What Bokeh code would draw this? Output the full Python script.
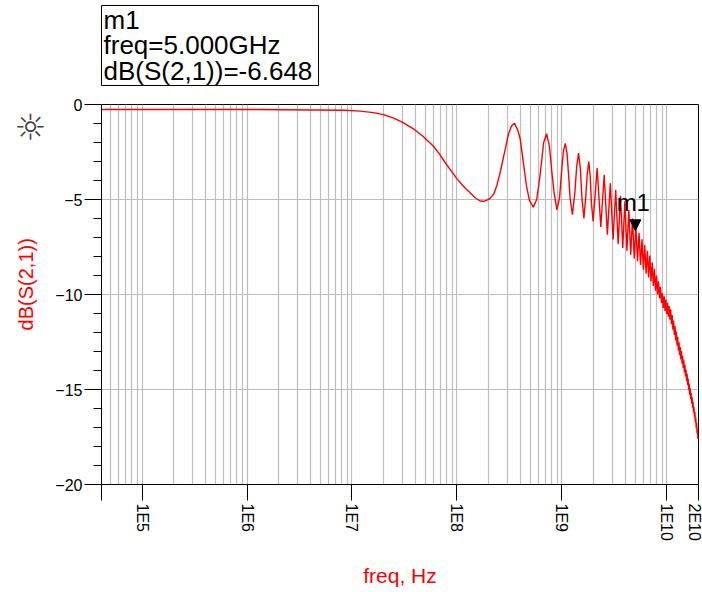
import math
from bokeh.plotting import figure
from bokeh.layouts import row, column
from bokeh.models import FixedTicker, Label, Arrow, NormalHead, BoxAnnotation
from bokeh.embed import file_html
from bokeh.resources import INLINE

# ---------------- data ----------------
# smooth / low-frequency part of the trace: frequency in GHz, dB(S(2,1))
low_freq_ghz = [0.0000411, 0.001, 0.0085, 0.012, 0.016, 0.0199, 0.025, 0.031, 0.0385,
                0.048, 0.0597, 0.068, 0.076, 0.087, 0.0997, 0.115, 0.1335, 0.150,
                0.1663, 0.180, 0.195, 0.207, 0.225, 0.24, 0.26, 0.2776, 0.295,
                0.31, 0.33, 0.3525, 0.38, 0.40, 0.43, 0.46, 0.49, 0.534, 0.575,
                0.61, 0.64, 0.67, 0.715, 0.76, 0.80, 0.84, 0.896, 0.95, 0.99,
                1.03, 1.0775, 1.12, 1.16, 1.20, 1.259, 1.33, 1.38, 1.44, 1.50,
                1.55, 1.62, 1.69, 1.74, 1.8025, 1.86, 1.91, 1.984]
low_db = [-0.26, -0.26, -0.30, -0.35, -0.43, -0.53, -0.72, -0.97, -1.28,
          -1.7, -2.2, -2.6, -3.0, -3.45, -3.9, -4.3, -4.65, -4.92,
          -5.08, -5.1, -5.02, -4.94, -4.7, -4.26, -3.5, -2.77, -2.1,
          -1.54, -1.15, -0.98, -1.35, -1.8, -3.1, -4.3, -5.05, -5.4, -5.0,
          -4.0, -3.0, -2.0, -1.54, -2.2, -3.5, -4.6, -5.55, -4.9, -3.6,
          -2.5, -2.05, -2.6, -3.8, -5.0, -5.8, -4.6, -3.3, -2.56, -3.4,
          -4.9, -6.0, -4.8, -3.7, -3.0, -3.8, -5.2, -6.15]

# dense ripple above 2 GHz: ripple maxima and minima
peak_freq_ghz = [2.165, 2.5275, 2.89, 3.2525, 3.615, 3.9775, 4.34, 4.7025, 5.065,
                 5.4275, 5.79, 6.1525, 6.515, 6.8775, 7.24, 7.6025, 7.965, 8.3275,
                 8.69, 9.0525, 9.415, 9.7775, 10.14, 10.5025, 10.865, 11.2275,
                 11.59, 11.9525, 12.315, 12.6775, 13.04, 13.4025, 13.765, 14.1275,
                 14.49, 14.8525, 15.215, 15.5775, 15.94, 16.3025, 16.665, 17.0275,
                 17.39, 17.7525, 18.115, 18.4775, 18.84, 19.2025, 19.565, 19.9275]
peak_db = [-3.35, -3.7, -4.15, -4.5, -4.8, -5.1, -5.55, -6.0, -6.4,
           -6.75, -7.1, -7.4, -7.7, -7.95, -8.3, -8.65, -9.0, -9.3,
           -9.6, -9.93, -10.1, -10.27, -10.43, -10.6, -10.78, -11.08,
           -11.37, -11.66, -11.95, -12.23, -12.52, -12.76, -12.98, -13.22,
           -13.46, -13.7, -13.95, -14.17, -14.42, -14.68, -14.93, -15.18,
           -15.41, -15.65, -15.92, -16.19, -16.47, -16.75, -17.05, -17.34]
trough_freq_ghz = [2.346, 2.709, 3.071, 3.434, 3.796, 4.159, 4.521, 4.884, 5.246,
                   5.609, 5.971, 6.334, 6.696, 7.059, 7.421, 7.784, 8.146, 8.509,
                   8.871, 9.234, 9.596, 9.959, 10.321, 10.684, 11.046, 11.409,
                   11.771, 12.134, 12.496, 12.859, 13.221, 13.584, 13.946, 14.309,
                   14.671, 15.034, 15.396, 15.759, 16.121, 16.484, 16.846, 17.209,
                   17.571, 17.934, 18.296, 18.659, 19.021, 19.384, 19.746, 20.0]
trough_db = [-6.45, -6.85, -7.1, -7.35, -7.55, -7.7, -7.9, -8.1, -8.25,
             -8.45, -8.7, -8.9, -9.1, -9.3, -9.55, -9.8, -10.0, -10.2,
             -10.45, -10.71, -10.86, -11.02, -11.17, -11.33, -11.57, -11.85,
             -12.13, -12.4, -12.68, -12.95, -13.19, -13.42, -13.64, -13.87,
             -14.1, -14.32, -14.55, -14.78, -15.02, -15.27, -15.5, -15.74,
             -15.96, -16.21, -16.46, -16.74, -17.02, -17.3, -17.6, -17.6]

marker_name = "m1"
marker_freq_hz = 5.0e9
marker_db = -6.648

x_start = 4.11e4
x_end = 2e10
x_major = [x_start, 1e5, 1e6, 1e7, 1e8, 1e9, 1e10, 2e10]
x_major_labels = ["", "1E5", "1E6", "1E7", "1E8", "1E9", "1E10", "2E10"]
y_major = [-20, -15, -10, -5, 0]
y_minor = [-19, -18, -17, -16, -14, -13, -12, -11, -9, -8, -7, -6, -4, -3, -2, -1]
x_title = "freq, Hz"
y_title = "dB(S(2,1))"

# ---------------- assemble trace ----------------
pts = list(zip(low_freq_ghz, low_db)) + list(zip(peak_freq_ghz, peak_db)) + \
      list(zip(trough_freq_ghz, trough_db))
pts.sort(key=lambda t: t[0])
freq_hz = [f * 1e9 for f, _ in pts]
db = [d for _, d in pts]

x_minor = [m * 10 ** e for e in range(4, 11) for m in range(2, 10)
           if x_start < m * 10 ** e < x_end]

FONT = "Liberation Sans"
RED = "#ff0000"


def blank(w, h):
    f = figure(width=w, height=h, x_range=(0, w), y_range=(0, h),
               output_backend="svg", toolbar_location=None, min_border=0,
               x_axis_location=None, y_axis_location=None)
    f.outline_line_color = None
    f.grid.visible = False
    f.background_fill_color = "white"
    f.border_fill_color = "white"
    return f


# ---------------- top strip: marker readout box ----------------
top = blank(702, 90)
top.add_layout(BoxAnnotation(left=101, right=318, bottom=5, top=85,
                             fill_color="white", fill_alpha=1.0,
                             line_color="black", line_width=1, line_alpha=1.0))
readout = [marker_name,
           "freq=%.3fGHz" % (marker_freq_hz / 1e9),
           "%s=%.3f" % (y_title, marker_db)]
for i, line_text in enumerate(readout):
    top.add_layout(Label(x=103, y=71 - 25.5 * i, text=line_text,
                         text_align="left", text_baseline="alphabetic",
                         text_font=FONT, text_font_size="26px", text_color="black"))

# ---------------- left strip: logo and y-axis title ----------------
left = blank(48, 502)
left.add_layout(Label(x=30, y=471, text="\u263c", text_align="center", text_baseline="middle",
                      text_font="DejaVu Sans", text_font_size="36px", text_color="#444444"))
left.add_layout(Label(x=25, y=264.5, text=y_title, angle=math.pi / 2,
                      text_align="center", text_baseline="middle",
                      text_font=FONT, text_font_size="20px", text_color=RED))

# ---------------- main plot ----------------
p = figure(width=654, height=502, x_axis_type="log",
           x_range=(x_start, x_end), y_range=(-20, 0),
           output_backend="svg", toolbar_location=None,
           min_border_left=53, min_border_right=4,
           min_border_top=14, min_border_bottom=108)

p.background_fill_color = "white"
p.border_fill_color = "white"
p.outline_line_color = "black"
p.outline_line_width = 1

p.xaxis.ticker = FixedTicker(ticks=x_major, minor_ticks=x_minor)
p.xaxis.major_label_overrides = {t: l for t, l in zip(x_major, x_major_labels)}
p.xaxis.major_label_orientation = -math.pi / 2
p.yaxis.ticker = FixedTicker(ticks=y_major, minor_ticks=y_minor)

for ax in (p.xaxis, p.yaxis):
    ax.axis_line_color = "black"
    ax.major_tick_line_color = "black"
    ax.minor_tick_line_color = "black"
    ax.major_tick_in = 0
    ax.minor_tick_in = 0
    ax.major_label_text_font = FONT
    ax.major_label_text_font_size = "16px"
    ax.major_label_text_color = "black"
    ax.axis_label_text_font = FONT
    ax.axis_label_text_font_size = "21px"
    ax.axis_label_text_font_style = "normal"
    ax.axis_label_text_color = RED

p.xaxis.major_tick_out = 16
p.xaxis.minor_tick_out = 0
p.xaxis.major_label_standoff = 3
p.xaxis.axis_label = x_title
p.xaxis.axis_label_standoff = 20

p.yaxis.major_tick_out = 17
p.yaxis.minor_tick_out = 8
p.yaxis.major_label_standoff = 2

p.xgrid.grid_line_color = "#bdbdbd"
p.xgrid.minor_grid_line_color = "#bdbdbd"
p.ygrid.grid_line_color = "#bdbdbd"
p.ygrid.minor_grid_line_color = None
p.xgrid.grid_line_width = 1.2
p.xgrid.minor_grid_line_width = 1.2
p.ygrid.grid_line_width = 1.2

p.line(freq_hz, db, color=RED, line_width=1.4)

# marker
p.add_layout(Arrow(end=NormalHead(size=11, fill_color="black", line_color="black"),
                   x_start=marker_freq_hz, y_start=marker_db + 0.5,
                   x_end=marker_freq_hz, y_end=marker_db, line_alpha=0))
p.add_layout(Label(x=marker_freq_hz, y=marker_db, text=marker_name,
                   text_align="center", text_baseline="alphabetic", x_offset=-2, y_offset=28,
                   text_font=FONT, text_font_size="24px", text_color="black"))

layout = column(top, row(left, p, spacing=0), spacing=0)

open("out.html", "w").write(file_html(layout, INLINE))
